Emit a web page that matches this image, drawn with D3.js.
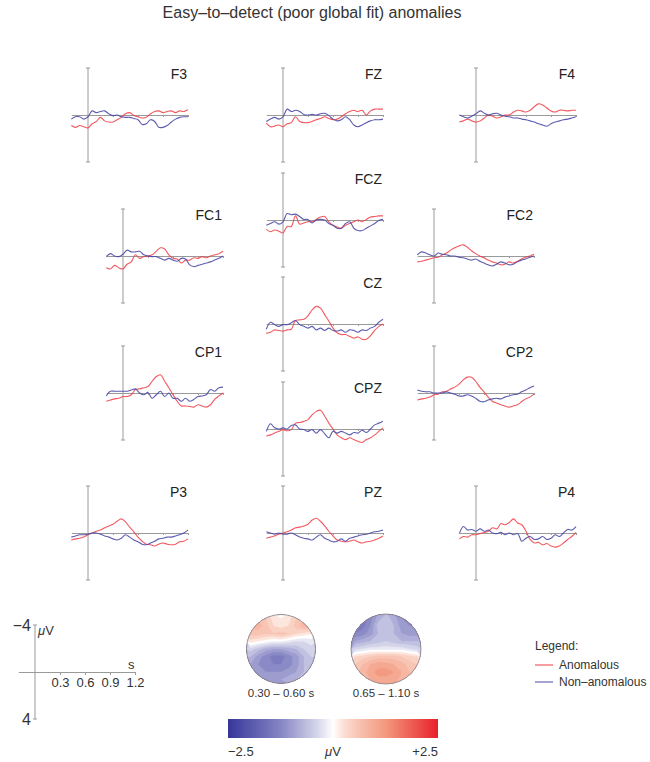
<!DOCTYPE html>
<html>
<head>
<meta charset="utf-8">
<script src="https://cdn.jsdelivr.net/npm/d3@7"></script>
<style>
  body { margin: 0; background: #fff; }
  svg { display: block; font-family: "Liberation Sans", Arial, sans-serif; }
</style>
</head>
<body>
<svg id="chart" width="650" height="762"></svg>
<script>
// time samples (s) and amplitudes (µV, positive drawn downwards)
var times = [-0.2,-0.15,-0.1,-0.05,0,0.05,0.1,0.15,0.2,0.25,0.3,0.35,0.4,0.45,0.5,0.55,0.6,0.65,0.7,0.75,0.8,0.85,0.9,0.95,1.0,1.05,1.1,1.15,1.2];

var F3_anom  = [0.9,1.05,0.9,1.0,1.1, 0.75,0.55,0.2,0.5,0.6, 0.6,0.4,0.2,-0.1,-0.2, 0.05,0.15,0.25,0.2,-0.1, -0.3,-0.35,-0.2,-0.3,-0.35, -0.2,-0.35,-0.3,-0.45];
var F3_non   = [0.35,0.15,0.15,0.35,0.15, -0.35,-0.2,-0.3,-0.35,-0.1, 0.05,0,0.15,0.2,0.2, 0.3,0.4,0.8,0.75,0.4, 0.55,1.05,1.05,0.9,0.6, 0.35,0.2,0.15,0.15];
var FZ_anom  = [0.7,1.0,0.95,0.85,1.0, 0.75,0.65,0.15,0.55,0.65, 0.65,0.55,0.4,0.3,0.15, 0.3,0.4,0.35,0.15,-0.1, -0.3,-0.4,-0.3,-0.4,0, -0.35,-0.5,-0.5,-0.5];
var FZ_non   = [0.55,0.35,0.2,0.35,0.15, -0.5,-0.3,-0.4,-0.3,-0.05, 0,-0.05,0,-0.1,-0.15, 0.05,0.35,0.5,0.4,0.15, 0.4,0.85,1.0,0.85,0.65, 0.5,0.4,0.4,0.35];
var F4_anom  = [0.6,0.5,0.35,0.5,0.6, 0.5,0.25,0,0.1,0.25, 0.15,0,0,-0.25,-0.4, -0.35,-0.25,-0.4,-0.7,-0.95, -0.85,-0.6,-0.35,-0.25,-0.4, -0.4,-0.35,-0.4,-0.4];
var F4_non   = [0,0.15,0.25,0.1,-0.1, -0.35,-0.15,0,-0.1,-0.15, 0,0.1,0.15,0.25,0.25, 0.35,0.4,0.5,0.6,0.75, 0.85,0.95,0.75,0.6,0.5, 0.4,0.35,0.25,0.15];
var FCZ_anom = [0.8,1.0,0.85,0.95,1.1, 0.55,0.55,-0.35,0.35,0.25, 0.15,0.15,-0.05,-0.25,-0.3, 0.15,0.45,0.6,0.7,0.45, 0.3,0.15,0,0.15,-0.05, -0.25,-0.3,-0.35,-0.35];
var FCZ_non  = [0.45,0.3,0.15,0.35,0.15, -0.55,-0.45,-0.5,-0.3,-0.05, -0.05,0.25,0,-0.05,0, 0.3,0.45,0.7,0.7,0.3, 0.15,0.7,0.9,0.9,0.7, 0.5,0.3,0.05,-0.05];
var FC1_anom = [1.0,1.1,0.8,1.0,1.1, 0.7,0.5,-0.1,0.2,0.05, 0,-0.1,-0.4,-0.7,-0.6, -0.1,0.2,0.25,0.6,0.35, 0.35,0.15,0.2,0.05,0.15, 0,-0.1,-0.2,-0.4];
var FC1_non  = [0.05,-0.2,0,0.05,-0.15, -0.5,-0.35,-0.35,-0.4,-0.1, 0,0.05,0.05,0.2,0.35, 0.2,0.35,0.45,0.2,0.25, 0.75,0.9,0.8,0.7,0.6, 0.5,0.35,0.2,0];
var FC2_anom = [0.5,0.45,0.35,0.25,0.15, 0.1,-0.1,-0.25,-0.5,-0.7, -0.85,-0.95,-0.75,-0.45,-0.2, 0,0.15,0.35,0.5,0.6, 0.75,0.7,0.5,0.6,0.45, 0.25,0.1,0,-0.15];
var FC2_non  = [-0.1,-0.35,-0.25,-0.1,0, -0.25,-0.15,-0.1,0,0, 0.1,0.15,0.25,0.35,0.25, 0.45,0.6,0.75,0.85,0.7, 0.5,0.6,0.75,0.7,0.5, 0.35,0.25,0.1,0];
var CZ_anom  = [0.8,0.7,0.5,0.55,0.6, 0.5,0.45,-0.3,-0.35,-0.4, -0.7,-1.2,-1.5,-1.35,-0.8, -0.25,0.35,0.75,0.9,0.9, 1.05,1.2,1.1,1.3,1.3, 1.0,0.55,0.2,0];
var CZ_non   = [0.45,-0.15,0.05,0.2,0.05, 0.05,-0.1,-0.3,0.05,0.2, 0.35,0.2,0.5,0.35,0.55, 0.35,0.55,0.6,0.5,0.7, 0.5,0.55,0.7,0.5,0.55, 0.35,0.2,-0.15,-0.4];
var CP1_anom = [0.7,0.6,0.5,0.45,0.3, 0.3,0.15,-0.3,-0.35,-0.45, -0.55,-1.0,-1.4,-1.55,-1.0, -0.45,0.15,0.7,1.1,1.1, 1.15,1.2,1.0,1.1,1.2, 1.0,0.55,0.25,0];
var CP1_non  = [0.25,-0.15,-0.15,-0.15,-0.15, -0.15,-0.25,-0.35,0,0.15, -0.05,0.45,0.15,-0.15,0.3, 0,0.45,0.45,0.7,0.45, 0.7,0.55,0.3,0.25,0.15, -0.3,-0.15,-0.45,-0.5];
var CP2_anom = [0.6,0.5,0.45,0.35,0.15, 0.1,-0.1,-0.15,-0.35,-0.5, -0.75,-1.1,-1.35,-1.35,-1.0, -0.5,-0.1,0.35,0.7,0.85, 1.0,1.1,1.2,1.1,1.0, 0.75,0.5,0.35,0.1];
var CP2_non  = [-0.25,-0.15,-0.1,-0.1,0, 0,0,-0.1,0,0.1, 0.25,0.25,0.15,0.25,0.45, 0.7,0.75,0.6,0.5,0.45, 0.5,0.35,0.25,0.15,0.1, -0.1,-0.25,-0.45,-0.6];
var CPZ_anom = [0.6,0.5,0.35,0.2,0.05, 0.15,0.05,-0.5,-0.55,-0.65, -0.8,-1.2,-1.5,-1.6,-1.1, -0.5,0,0.5,0.75,0.9, 0.75,0.9,1.05,1.15,0.9, 0.75,0.5,0.2,-0.1];
var CPZ_non  = [0.2,-0.45,-0.1,0,-0.1, 0,-0.3,-0.35,0,0.05, 0.2,0.05,0.35,0.05,0.4, 0.75,0.2,0.35,0.2,0.35, 0.5,0.3,0.35,0.1,0.3, 0,-0.35,-0.5,-0.65];
var P3_anom  = [0.6,0.5,0.45,0.35,0.15, 0,-0.15,-0.25,-0.45,-0.6, -0.75,-1.0,-1.2,-0.95,-0.5, -0.1,0.35,0.7,0.95,1.0, 1.1,0.95,0.85,0.95,1.0, 0.95,0.75,0.7,0.5];
var P3_non   = [0.35,0.25,0.15,0.15,0.1, 0,0,0.1,0.25,0.35, 0.5,0.6,0.45,0.15,0.35, 0.6,0.75,0.95,1.0,0.85, 0.7,0.5,0.45,0.35,0.35, 0.25,0.15,0,-0.25];
var PZ_anom  = [0.45,0.35,0.25,0.1,0, -0.1,-0.25,-0.45,-0.5,-0.6, -0.75,-1.1,-1.25,-1.0,-0.6, -0.15,0.25,0.6,0.7,0.75, 0.7,0.6,0.75,0.85,0.75, 0.7,0.6,0.45,0.25];
var PZ_non   = [-0.1,0,0.1,0,0.1, 0.1,0,0.15,0.35,0.45, 0.5,0.6,0.35,0.15,0.45, 0.6,0.75,0.7,0.5,0.7, 0.45,0.35,0.25,0.15,0.1, 0,-0.1,-0.15,-0.25];
var P4_anom  = [0.5,0.3,0.35,0.15,0.15, 0.05,-0.05,-0.15,-0.45,-0.35, -0.8,-0.7,-0.9,-1.2,-0.85, -0.7,-0.15,0.55,0.85,0.8, 1.0,0.9,1.1,1.2,1.1, 0.85,0.55,0.3,-0.05];
var P4_non   = [0.05,-0.55,-0.25,-0.3,-0.15, -0.35,-0.15,-0.25,0,0.05, -0.05,0.15,0,0.15,0.05, 0.7,0.45,0.3,0.55,0.5, 0.3,0.55,0.45,0.15,0.3, 0,-0.3,-0.25,-0.55];

var timeTicks = [0.3, 0.6, 0.9, 1.2];

// scalp maps, 9x9 grids (rows top -> bottom), µV
var topo1 = [
   0.6, 0.7, 0.5, 0.2, 0.1, 0.2, 0.5, 0.7, 0.6,
   0.8, 0.8, 0.6, 0.3, 0.2, 0.3, 0.6, 0.8, 0.8,
   0.6, 0.6, 0.5, 0.5, 0.6, 0.5, 0.3, 0.2, 0.1,
   0.2, 0.1, 0.0,-0.1,-0.1,-0.2,-0.3,-0.3,-0.2,
  -0.4,-0.6,-0.8,-0.9,-0.9,-0.8,-0.7,-0.5,-0.4,
  -0.7,-1.0,-1.2,-1.4,-1.4,-1.2,-1.0,-0.7,-0.5,
  -0.9,-1.1,-1.2,-1.3,-1.3,-1.2,-1.0,-0.7,-0.6,
  -0.9,-1.0,-1.1,-1.1,-1.1,-1.0,-0.9,-0.7,-0.6,
  -0.8,-0.9,-0.9,-0.9,-0.9,-0.8,-0.7,-0.6,-0.6];
var topo2 = [
  -1.4,-1.4,-1.2,-0.8,-0.6,-0.8,-1.1,-1.2,-1.2,
  -1.5,-1.4,-1.1,-0.6,-0.5,-0.7,-1.0,-1.1,-1.1,
  -1.3,-1.2,-1.0,-0.7,-0.6,-0.7,-0.9,-1.0,-1.0,
  -0.9,-0.8,-0.7,-0.6,-0.5,-0.6,-0.7,-0.7,-0.7,
  -0.4,-0.3,-0.2,-0.2,-0.2,-0.2,-0.2,-0.3,-0.4,
   0.3, 0.4, 0.5, 0.6, 0.6, 0.6, 0.5, 0.4, 0.3,
   0.5, 0.7, 0.9, 1.0, 1.0, 0.9, 0.8, 0.6, 0.5,
   0.6, 0.8, 1.0, 1.2, 1.2, 1.1, 0.9, 0.7, 0.6,
   0.6, 0.7, 0.9, 1.0, 1.0, 1.0, 0.8, 0.7, 0.6];
var topoLabels = ["0.30 \u2013 0.60 s", "0.65 \u2013 1.10 s"];

var anomalous = {F3:F3_anom, FZ:FZ_anom, F4:F4_anom, FCZ:FCZ_anom, FC1:FC1_anom, FC2:FC2_anom,
  CZ:CZ_anom, CP1:CP1_anom, CP2:CP2_anom, CPZ:CPZ_anom, P3:P3_anom, PZ:PZ_anom, P4:P4_anom};
var nonAnomalous = {F3:F3_non, FZ:FZ_non, F4:F4_non, FCZ:FCZ_non, FC1:FC1_non, FC2:FC2_non,
  CZ:CZ_non, CP1:CP1_non, CP2:CP2_non, CPZ:CPZ_non, P3:P3_non, PZ:PZ_non, P4:P4_non};

// where each panel's origin (t=0, 0 µV) sits
var layout = {
  F3:[88,115], FZ:[283,115], F4:[476,115],
  FCZ:[283,220],
  FC1:[123,256], FC2:[434,256],
  CZ:[283,324],
  CP1:[123,393], CP2:[434,393],
  CPZ:[283,429],
  P3:[88,533], PZ:[283,533], P4:[476,533]
};

var RED = "#f03c44", BLUE = "#4a4aa8", AXIS = "#9a9a9a";

var svg = d3.select("#chart");

svg.append("text")
  .attr("x", 312).attr("y", 18)
  .attr("text-anchor", "middle")
  .style("font-size", "16px").style("fill", "#333")
  .text("Easy\u2013to\u2013detect (poor global fit) anomalies");

var x = d3.scaleLinear().domain([-0.2, 1.2]).range([-16.7, 100]);
var y = d3.scaleLinear().domain([-4, 4]).range([-47, 47]);

var line = d3.line()
  .x(function(d, i) { return x(times[i]); })
  .y(function(d) { return y(d); })
  .curve(d3.curveCatmullRom.alpha(0.5));

function drawAxes(g) {
  var ax = d3.axisBottom(x).tickValues(timeTicks).tickSize(2).tickSizeOuter(0).tickFormat("");
  g.append("g").call(ax)
    .call(function(a) { a.selectAll("path, line").attr("stroke", AXIS); });
  g.append("line")
    .attr("x1", 0).attr("x2", 0).attr("y1", y(-4)).attr("y2", y(4))
    .attr("stroke", AXIS);
  [-4, 4].forEach(function(v) {
    g.append("line")
      .attr("x1", -2).attr("x2", 2).attr("y1", y(v)).attr("y2", y(v))
      .attr("stroke", AXIS);
  });
}

Object.keys(layout).forEach(function(ch) {
  var p = layout[ch];
  var g = svg.append("g").attr("transform", "translate(" + p[0] + "," + p[1] + ")");
  drawAxes(g);
  g.append("path").datum(anomalous[ch])
    .attr("d", line).attr("fill", "none")
    .attr("stroke", RED).attr("stroke-width", 1.1).attr("stroke-opacity", 0.85);
  g.append("path").datum(nonAnomalous[ch])
    .attr("d", line).attr("fill", "none")
    .attr("stroke", BLUE).attr("stroke-width", 1.1).attr("stroke-opacity", 0.9);
  g.append("text")
    .attr("x", 99).attr("y", -36)
    .attr("text-anchor", "end")
    .style("font-size", "14px").style("fill", "#222")
    .text(ch);
});

// scale key, bottom left
var key = svg.append("g").attr("transform", "translate(35,672)");
key.append("g")
  .call(d3.axisBottom(x).tickValues(timeTicks).tickSize(3).tickSizeOuter(0).tickPadding(3)
    .tickFormat(d3.format(".1f")))
  .call(function(a) {
    a.selectAll("path, line").attr("stroke", AXIS);
    a.selectAll("text").style("font-size", "13px").style("fill", "#333")
      .style("font-family", "Liberation Sans, Arial, sans-serif");
  });
key.append("line")
  .attr("x1", 0).attr("x2", 0).attr("y1", y(-4)).attr("y2", y(4)).attr("stroke", AXIS);
[-4, 4].forEach(function(v) {
  key.append("line").attr("x1", -2).attr("x2", 2).attr("y1", y(v)).attr("y2", y(v)).attr("stroke", AXIS);
  key.append("text")
    .attr("x", -4).attr("y", y(v) + 6)
    .attr("text-anchor", "end")
    .style("font-size", "16px").style("fill", "#333")
    .text(v < 0 ? "\u2212" + Math.abs(v) : v);
});
var uv = key.append("text").attr("x", 3).attr("y", y(-4) + 10)
  .style("font-size", "13px").style("fill", "#333");
uv.append("tspan").style("font-style", "italic").text("\u03bc");
uv.append("tspan").text("V");
key.append("text").attr("x", x(1.2) - 7).attr("y", -3)
  .style("font-size", "13px").style("fill", "#333").text("s");

// colour scale
var color = d3.scaleLinear()
  .domain([-2.5, -1.25, -0.3, 0, 0.3, 1.25, 2.5])
  .range(["#363699", "#8585c4", "#dcdcee", "#ffffff", "#fbd9cc", "#f3987e", "#e8202a"])
  .interpolate(d3.interpolateRgb)
  .clamp(true);

// scalp maps
var maps = [
  {grid: topo1, cx: 281, cy: 649, r: 34.5, label: topoLabels[0]},
  {grid: topo2, cx: 386, cy: 649, r: 35, label: topoLabels[1]}
];
var step = 0.2;
var thresholds = d3.range(-2.5, 2.5, step);
var defs = svg.append("defs");
maps.forEach(function(m, k) {
  var n = 9;
  defs.append("clipPath").attr("id", "clip" + k)
    .append("circle").attr("cx", m.cx).attr("cy", m.cy).attr("r", m.r);
  var proj = d3.geoIdentity()
    .scale(2 * m.r / n)
    .translate([m.cx - m.r, m.cy - m.r]);
  var path = d3.geoPath(proj);
  var cont = d3.contours().size([n, n]).thresholds(thresholds)(m.grid);
  var g = svg.append("g").attr("clip-path", "url(#clip" + k + ")");
  g.append("circle").attr("cx", m.cx).attr("cy", m.cy).attr("r", m.r)
    .attr("fill", color(d3.min(m.grid)));
  g.selectAll("path").data(cont).enter().append("path")
    .attr("d", path)
    .attr("fill", function(d) { return color(d.value + step / 2); })
    .attr("stroke", function(d) { return color(d.value + step / 2); })
    .attr("stroke-width", 0.4);
  svg.append("circle").attr("cx", m.cx).attr("cy", m.cy).attr("r", m.r)
    .attr("fill", "none").attr("stroke", "#8a7f7f").attr("stroke-width", 0.8);
  svg.append("text").attr("x", m.cx).attr("y", 697)
    .attr("text-anchor", "middle")
    .style("font-size", "11.5px").style("fill", "#333")
    .text(m.label);
});

// colour bar
var bar = d3.scaleLinear().domain([-2.5, 2.5]).range([228, 438]);
var grad = defs.append("linearGradient").attr("id", "cbar");
d3.range(0, 1.0001, 0.05).forEach(function(f) {
  grad.append("stop").attr("offset", f)
    .attr("stop-color", color(bar.invert(228 + f * 210)));
});
svg.append("rect")
  .attr("x", bar(-2.5)).attr("y", 719)
  .attr("width", bar(2.5) - bar(-2.5)).attr("height", 19)
  .attr("fill", "url(#cbar)");
svg.append("text").attr("x", bar(-2.5)).attr("y", 756)
  .style("font-size", "13px").style("fill", "#333").text("\u22122.5");
svg.append("text").attr("x", bar(2.5)).attr("y", 756).attr("text-anchor", "end")
  .style("font-size", "13px").style("fill", "#333").text("+2.5");
var cu = svg.append("text").attr("x", bar(0)).attr("y", 756).attr("text-anchor", "middle")
  .style("font-size", "13px").style("fill", "#333");
cu.append("tspan").style("font-style", "italic").text("\u03bc");
cu.append("tspan").text("V");

// legend
var leg = svg.append("g").attr("transform", "translate(535,650)");
leg.append("text").attr("x", 0).attr("y", 0)
  .style("font-size", "12px").style("fill", "#333").text("Legend:");
[["Anomalous", RED], ["Non\u2013anomalous", BLUE]].forEach(function(e, i) {
  var yy = 15 + i * 17;
  leg.append("line").attr("x1", 0).attr("x2", 18).attr("y1", yy).attr("y2", yy)
    .attr("stroke", e[1]).attr("stroke-width", 1);
  leg.append("text").attr("x", 24).attr("y", yy + 4)
    .style("font-size", "12px").style("fill", "#333").text(e[0]);
});
</script>
</body>
</html>
